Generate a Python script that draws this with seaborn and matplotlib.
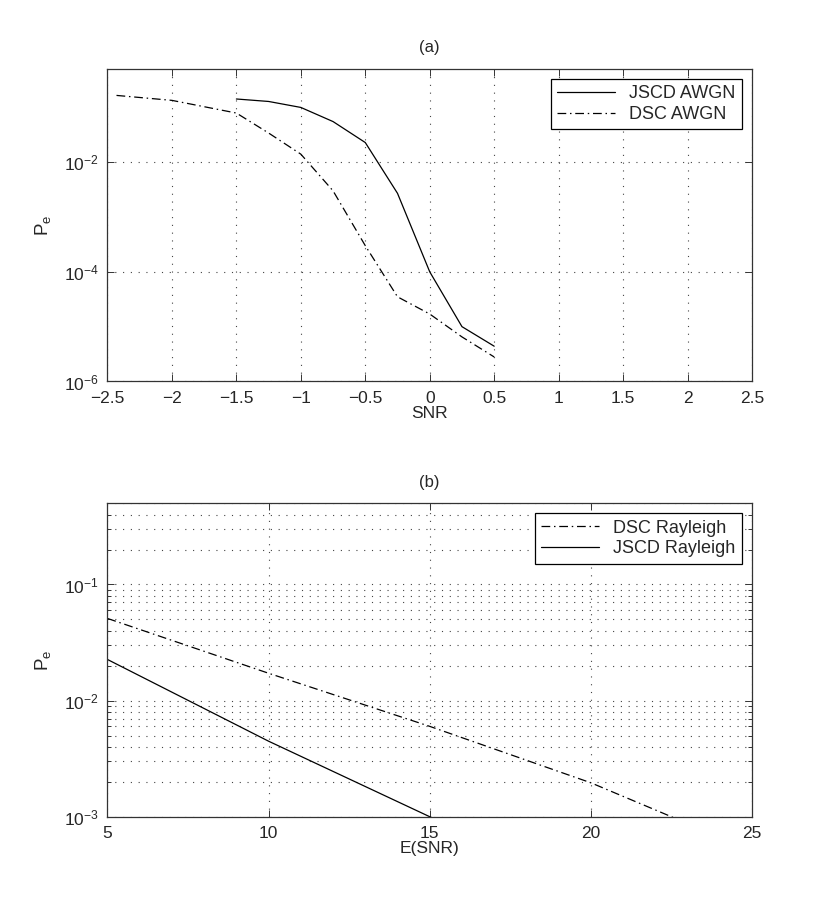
import numpy as np
import pandas as pd
import matplotlib
matplotlib.use("Agg")
import matplotlib.pyplot as plt
import matplotlib.ticker as mticker
import seaborn as sns

# ---- data (a) ----
jscd_awgn_x = [-1.5, -1.25, -1.0, -0.75, -0.5, -0.25, 0.0, 0.25, 0.5]
jscd_awgn_y = [0.142, 0.128, 0.0996, 0.055, 0.0228, 0.0027, 1.0e-4, 1.0e-5, 4.4e-6]
dsc_awgn_x = [-2.43, -2.0, -1.5, -1.25, -1.0, -0.75, -0.5, -0.25, 0.0, 0.25, 0.5]
dsc_awgn_y = [0.165, 0.134, 0.0787, 0.034, 0.0140, 0.0030, 3.0e-4, 3.5e-5, 1.7e-5, 6.5e-6, 2.8e-6]

# ---- data (b) ----
dsc_ray_x = [5, 10, 15, 20, 25]
dsc_ray_y = [0.051, 0.0172, 0.0060, 0.00196, 0.00051]
jscd_ray_x = [5, 10, 15, 20, 25]
jscd_ray_y = [0.0226, 0.00447, 0.0010, 0.00024, 0.00006]

xticks_a = [-2.5, -2, -1.5, -1, -0.5, 0, 0.5, 1, 1.5, 2, 2.5]
xticks_b = [5, 10, 15, 20, 25]

sns.set_style("ticks")
plt.rcParams['font.family'] = ['Liberation Sans', 'DejaVu Sans']
plt.rcParams['mathtext.fontset'] = 'custom'
plt.rcParams['mathtext.rm'] = 'Liberation Sans'
plt.rcParams['mathtext.it'] = 'Liberation Sans:italic'
plt.rcParams['axes.unicode_minus'] = True

FS = 12.5
DASHDOT = (0, (7, 3, 1.2, 3))
GRID = (0, (1, 6))
LW = 0.9

fig = plt.figure(figsize=(8.3, 9.19), dpi=100)
ax1 = fig.add_axes([0.1295, 0.5849, 0.9060 - 0.1295, 0.9249 - 0.5849])
ax2 = fig.add_axes([0.1295, 0.1113, 0.9060 - 0.1295, 0.4523 - 0.1113])

def style_axes(ax):
    for s in ax.spines.values():
        s.set_color('#333333')
        s.set_linewidth(0.9)
    ax.tick_params(which='both', direction='in', top=True, right=True,
                   labelsize=FS, color='#333333', width=0.7)
    ax.tick_params(which='major', length=5)
    ax.tick_params(which='minor', length=3)
    ax.tick_params(axis='x', which='major', pad=7)
    ax.tick_params(axis='y', which='major', pad=6)

# (a)
sns.lineplot(x=jscd_awgn_x, y=jscd_awgn_y, ax=ax1, color='black', lw=LW,
             label='JSCD AWGN', estimator=None)
sns.lineplot(x=dsc_awgn_x, y=dsc_awgn_y, ax=ax1, color='black', lw=LW,
             linestyle=DASHDOT, label='DSC AWGN', estimator=None)
ax1.set_yscale('log')
ax1.set_xlim(-2.5, 2.5)
ax1.set_ylim(1e-6, 0.5)
ax1.set_xticks(xticks_a)
ax1.set_xticklabels([f"{t:g}".replace('-', '\u2212') for t in xticks_a])
ax1.set_yticks([1e-6, 1e-4, 1e-2])
ax1.yaxis.set_minor_locator(mticker.NullLocator())
ax1.grid(True, which='major', linestyle=GRID, color='#444444', lw=0.8)
style_axes(ax1)
ax1.set_xlabel('SNR', fontsize=FS, labelpad=0)
ax1.set_ylabel(r'$\mathregular{P_e}$', fontsize=FS + 1, labelpad=8)
ax1.set_title('(a)', fontsize=12, pad=12)
leg1 = ax1.legend(loc='upper right', fontsize=13, frameon=True, fancybox=False,
                  edgecolor='black', framealpha=1, borderaxespad=0.55,
                  handlelength=3.2, borderpad=0.35, labelspacing=0.2)
leg1.get_frame().set_linewidth(0.9)

# (b)
sns.lineplot(x=dsc_ray_x, y=dsc_ray_y, ax=ax2, color='black', lw=LW,
             linestyle=DASHDOT, label='DSC Rayleigh', estimator=None)
sns.lineplot(x=jscd_ray_x, y=jscd_ray_y, ax=ax2, color='black', lw=LW,
             label='JSCD Rayleigh', estimator=None)
ax2.set_yscale('log')
ax2.set_xlim(5, 25)
ax2.set_ylim(1e-3, 0.5)
ax2.set_xticks(xticks_b)
ax2.set_yticks([1e-3, 1e-2, 1e-1])
ax2.yaxis.set_minor_locator(mticker.LogLocator(base=10, subs=np.arange(2, 10)))
ax2.yaxis.set_minor_formatter(mticker.NullFormatter())
ax2.grid(True, which='major', axis='x', linestyle=GRID, color='#444444', lw=0.8)
ax2.grid(True, which='both', axis='y', linestyle=GRID, color='#444444', lw=0.8)
style_axes(ax2)
ax2.set_xlabel('E(SNR)', fontsize=FS, labelpad=0)
ax2.set_ylabel(r'$\mathregular{P_e}$', fontsize=FS + 1, labelpad=8)
ax2.set_title('(b)', fontsize=12, pad=12)
leg2 = ax2.legend(loc='upper right', fontsize=13, frameon=True, fancybox=False,
                  edgecolor='black', framealpha=1, borderaxespad=0.55,
                  handlelength=3.2, borderpad=0.35, labelspacing=0.2)
leg2.get_frame().set_linewidth(0.9)

fig.savefig('out.png', dpi=100, facecolor='white')
